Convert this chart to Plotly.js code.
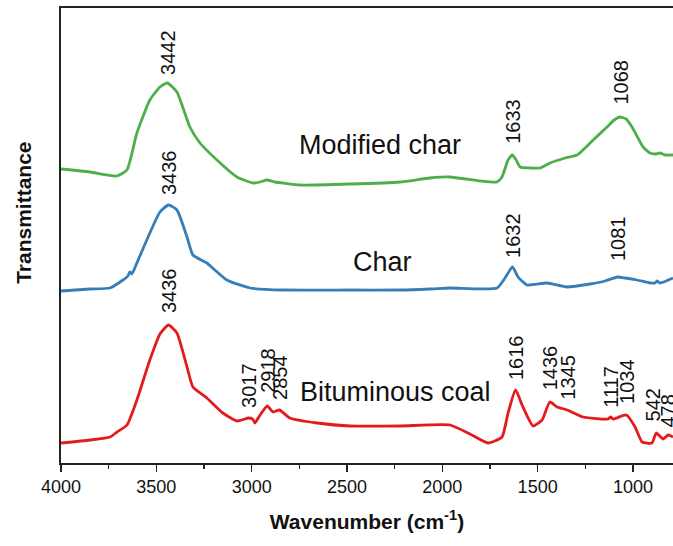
<!DOCTYPE html>
<html>
<head>
<meta charset="utf-8">
<script src="https://cdn.plot.ly/plotly-3.0.1.min.js"></script>
<style>
  html, body { margin: 0; padding: 0; background: #fff; }
  #chart { width: 673px; height: 546px; }
</style>
</head>
<body>
<div id="chart"></div>
<script>
// FTIR spectra, stacked with vertical offsets (arbitrary transmittance units)

const modifiedWavenumber = [4000, 3848, 3707, 3654, 3602, 3534, 3481, 3442, 3392, 3324, 3271, 3182, 3077, 2993, 2956, 2920, 2878, 2836, 2747, 2484, 2222, 2065, 1960, 1802, 1713, 1687, 1655, 1633, 1613, 1592, 1540, 1487, 1435, 1356, 1293, 1209, 1136, 1099, 1068, 1036, 1005, 947, 910, 884, 858, 832, 790];
const modifiedT = [294, 291, 287, 293, 330, 363, 376, 380, 371, 336, 320, 303, 286, 280, 281, 283, 281, 280, 278, 279, 281, 285, 286, 282, 281, 286, 303, 308, 303, 296, 295, 295, 300, 305, 308, 323, 336, 343, 346, 344, 336, 316, 310, 309, 310, 308, 308];

const charWavenumber = [4000, 3848, 3743, 3675, 3649, 3639, 3628, 3602, 3534, 3481, 3436, 3392, 3339, 3308, 3235, 3130, 3009, 2836, 2484, 2222, 2065, 1960, 1713, 1671, 1632, 1603, 1556, 1451, 1346, 1225, 1146, 1081, 1041, 978, 910, 884, 874, 858, 790];
const charT = [172, 174, 175, 183, 187, 191, 189, 200, 230, 251, 258, 253, 226, 208, 200, 183, 175, 173, 173, 173, 174, 175, 175, 185, 196, 186, 178, 180, 176, 179, 182, 186, 185, 183, 180, 180, 182, 180, 185];

const coalWavenumber = [4000, 3848, 3743, 3706, 3654, 3602, 3534, 3481, 3436, 3392, 3339, 3308, 3235, 3151, 3077, 3017, 2995, 2983, 2956, 2918, 2888, 2854, 2800, 2657, 2484, 2222, 1960, 1855, 1760, 1687, 1655, 1616, 1577, 1524, 1477, 1436, 1398, 1345, 1262, 1131, 1117, 1104, 1034, 989, 952, 900, 878, 842, 815, 790];
const coalT = [20, 23, 26, 31, 38, 63, 103, 129, 138, 130, 96, 76, 65, 50, 42, 45, 44, 40, 48, 57, 51, 53, 45, 40, 37, 37, 38, 29, 20, 26, 50, 73, 56, 37, 43, 61, 56, 53, 46, 44, 46, 44, 48, 36, 21, 20, 30, 24, 28, 26];

// Peak labels: [text, wavenumber position, label base height]
const peakLabels = [
  ["3442", 3442, 386], ["1633", 1633, 317], ["1068", 1068, 356],
  ["3436", 3436, 266], ["1632", 1632, 203], ["1081", 1081, 200],
  ["3436", 3436, 148], ["3017", 3017, 53], ["2918", 2918, 68], ["2854", 2854, 61],
  ["1616", 1616, 81], ["1436", 1436, 71], ["1345", 1345, 61],
  ["1117", 1117, 53], ["1034", 1034, 57], ["542", 895, 40], ["478", 821, 33]
];

// Sample names: [text, wavenumber position, height]
const sampleNames = [
  ["Modified char", 2327, 318],
  ["Char", 2316, 201],
  ["Bituminous coal", 2248, 71]
];

const xTicks = [4000, 3500, 3000, 2500, 2000, 1500, 1000];

const FONT = "Liberation Sans, Arial, sans-serif";

function spectrum(x, y, color) {
  return {
    x: x, y: y, type: "scatter", mode: "lines",
    line: { color: color, width: 2.8, shape: "spline", smoothing: 0.5 },
    hoverinfo: "skip", showlegend: false
  };
}

const traces = [
  spectrum(modifiedWavenumber, modifiedT, "#4daf4a"),
  spectrum(charWavenumber, charT, "#377eb8"),
  spectrum(coalWavenumber, coalT, "#e41a1c")
];

const annotations = [];
peakLabels.forEach(function (p) {
  annotations.push({
    text: p[0], x: p[1], y: p[2], xref: "x", yref: "y",
    textangle: -90, xanchor: "center", yanchor: "bottom",
    showarrow: false, font: { family: FONT, size: 20, color: "#111" }
  });
});
sampleNames.forEach(function (s) {
  annotations.push({
    text: s[0], x: s[1], y: s[2], xref: "x", yref: "y",
    xanchor: "center", yanchor: "middle",
    showarrow: false, font: { family: FONT, size: 27, color: "#111" }
  });
});
annotations.push({
  text: "<b>Transmittance</b>", xref: "paper", yref: "paper",
  x: -0.061, y: 0.549, xanchor: "center", yanchor: "middle",
  textangle: -90, showarrow: false,
  font: { family: FONT, size: 21, color: "#111" }
});

const layout = {
  width: 673, height: 546,
  margin: { l: 61, r: 0, t: 8, b: 83 },
  paper_bgcolor: "#fff", plot_bgcolor: "#fff",
  font: { family: FONT, color: "#111" },
  xaxis: {
    range: [4000, 790],
    tickvals: xTicks,
    ticktext: xTicks.map(String),
    ticks: "outside", ticklen: 7, tickwidth: 1.5, tickcolor: "#222",
    minor: { tickvals: [3750, 3250, 2750, 2250, 1750, 1250], ticks: "outside", ticklen: 4, tickwidth: 1.5, tickcolor: "#222" },
    showline: true, linecolor: "#222", linewidth: 1.6, mirror: true,
    showgrid: false, zeroline: false,
    tickfont: { family: FONT, size: 18, color: "#111" },
    title: { text: "<b>Wavenumber (cm<sup>-1</sup>)</b>", standoff: 18, font: { family: FONT, size: 21, color: "#111" } }
  },
  yaxis: {
    range: [0, 455],
    showticklabels: false, ticks: "",
    showline: true, linecolor: "#222", linewidth: 1.6, mirror: false,
    showgrid: false, zeroline: false
  },
  annotations: annotations
};

Plotly.newPlot("chart", traces, layout, { displayModeBar: false, staticPlot: true });
</script>
</body>
</html>
